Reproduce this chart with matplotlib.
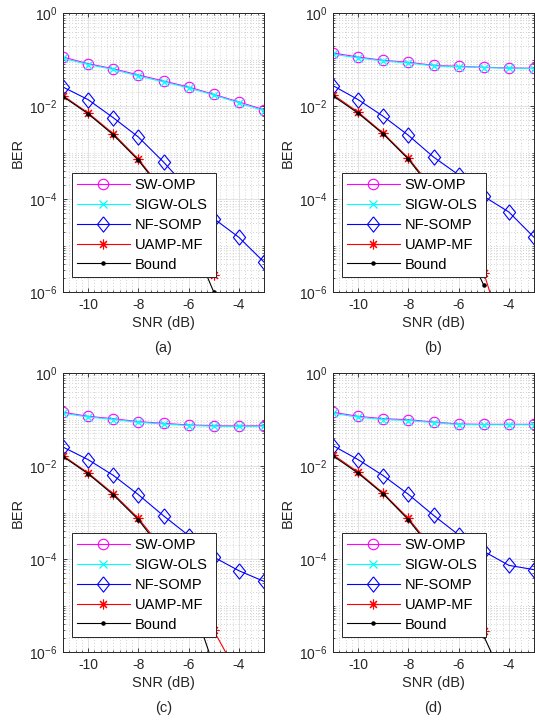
import numpy as np
import matplotlib
matplotlib.use('Agg')
import matplotlib.pyplot as plt
from matplotlib.ticker import FixedLocator, LogLocator, LogFormatterMathtext, MultipleLocator, NullFormatter

plt.rcParams['font.family'] = ['Liberation Sans', 'DejaVu Sans']
plt.rcParams['mathtext.fontset'] = 'custom'
plt.rcParams['mathtext.rm'] = 'Liberation Sans'
plt.rcParams['mathtext.it'] = 'Liberation Sans:italic'
plt.rcParams['axes.unicode_minus'] = False
plt.rcParams['font.size'] = 10

snr = [-11, -10, -9, -8, -7, -6, -5, -4, -3]

# BER = 0 means no error counted, not shown on the log axis
sw_omp_a = [0.113, 0.081, 0.0635, 0.0464, 0.0345, 0.0256, 0.0178, 0.0122, 0.0083]
sigw_ols_a = [0.106, 0.078, 0.061, 0.044, 0.033, 0.0245, 0.0172, 0.0117, 0.0079]
nf_somp_a = [0.0256, 0.0137, 0.0056, 0.00215, 6.25e-4, 1.6e-4, 3.8e-5, 1.5e-5, 4.4e-6]
uamp_mf_a = [0.0167, 0.0071, 0.00254, 7.2e-4, 1.5e-4, 2.2e-5, 2.3e-6, 0, 0]
bound_a = [0.0160, 0.0068, 0.00240, 6.8e-4, 1.4e-4, 1.9e-5, 1.0e-6, 0, 0]

sw_omp_b = [0.138, 0.113, 0.096, 0.087, 0.075, 0.0713, 0.068, 0.0656, 0.0646]
sigw_ols_b = [0.130, 0.108, 0.093, 0.084, 0.073, 0.070, 0.067, 0.065, 0.064]
nf_somp_b = [0.0274, 0.0137, 0.0060, 0.00234, 8.0e-4, 3.3e-4, 1.14e-4, 5.25e-5, 1.5e-5]
uamp_mf_b = [0.0175, 0.0074, 0.0026, 7.6e-4, 1.6e-4, 2.5e-5, 2.6e-6, 5e-8, 0]
bound_b = [0.0165, 0.0070, 0.0025, 7.2e-4, 1.45e-4, 2.0e-5, 1.4e-6, 0, 0]

sw_omp_c = [0.143, 0.117, 0.104, 0.0898, 0.0827, 0.0762, 0.0737, 0.0725, 0.0737]
sigw_ols_c = [0.136, 0.113, 0.100, 0.087, 0.080, 0.074, 0.072, 0.071, 0.072]
nf_somp_c = [0.0256, 0.0137, 0.0063, 0.00242, 8.5e-4, 3.2e-4, 1.1e-4, 5.6e-5, 3.3e-5]
uamp_mf_c = [0.0167, 0.0071, 0.00254, 7.5e-4, 1.6e-4, 2.4e-5, 2.9e-6, 3e-7, 0]
bound_c = [0.0160, 0.0068, 0.00240, 7.0e-4, 1.4e-4, 1.9e-5, 5e-7, 0, 0]

sw_omp_d = [0.143, 0.117, 0.104, 0.099, 0.0883, 0.080, 0.0787, 0.0787, 0.0787]
sigw_ols_d = [0.136, 0.112, 0.100, 0.095, 0.086, 0.078, 0.077, 0.077, 0.077]
nf_somp_d = [0.0274, 0.0137, 0.0062, 0.00246, 8.7e-4, 3.3e-4, 1.46e-4, 7.3e-5, 5.9e-5]
uamp_mf_d = [0.0175, 0.0074, 0.0026, 7.5e-4, 1.6e-4, 2.5e-5, 2.8e-6, 0, 0]
bound_d = [0.0165, 0.0070, 0.0025, 7.0e-4, 1.45e-4, 2.0e-5, 2.2e-6, 1.5e-7, 0]

labels = ['SW-OMP', 'SIGW-OLS', 'NF-SOMP', 'UAMP-MF', 'Bound']
captions = ['(a)', '(b)', '(c)', '(d)']

panels = [
    [sw_omp_a, sigw_ols_a, nf_somp_a, uamp_mf_a, bound_a],
    [sw_omp_b, sigw_ols_b, nf_somp_b, uamp_mf_b, bound_b],
    [sw_omp_c, sigw_ols_c, nf_somp_c, uamp_mf_c, bound_c],
    [sw_omp_d, sigw_ols_d, nf_somp_d, uamp_mf_d, bound_d],
]

# MATLAB-like diamond, a bit taller than wide
diamond = [(0, 1), (0.8, 0), (0, -1), (-0.8, 0), (0, 1)]

styles = [
    dict(color='#ff00ff', marker='o', ms=7.5, mfc='none', mew=0.8),
    dict(color='#00ffff', marker='x', ms=5.5, mew=0.9),
    dict(color='#0000ff', marker=diamond, ms=11, mfc='none', mew=0.8),
    dict(color='#ff0000', marker=(8, 2, 0), ms=7, mew=0.8),
    dict(color='black', marker='.', ms=4.5),
]

W, H = 535, 725
fig = plt.figure(figsize=(W / 100, H / 100), dpi=100)

# axes boxes in pixels: left, top
boxes = [(63, 13), (333, 13), (63, 373), (333, 373)]
aw, ah = 201, 279


def ber_panel(ax, curves, caption):
    for ber, st, lab in zip(curves, styles, labels):
        ber = np.array(ber, dtype=float)
        ber[ber <= 0] = np.nan
        ax.plot(snr, ber, lw=0.8, label=lab, **st)
    ax.set_yscale('log')
    ax.set_xlim(-11, -3)
    ax.set_ylim(1e-6, 1)
    ax.xaxis.set_major_locator(FixedLocator([-10, -8, -6, -4]))
    ax.xaxis.set_minor_locator(MultipleLocator(0.25))
    ax.yaxis.set_major_locator(FixedLocator([1e-6, 1e-4, 1e-2, 1]))
    ax.yaxis.set_major_formatter(LogFormatterMathtext())
    ax.yaxis.set_minor_locator(LogLocator(base=10, subs=np.arange(1, 10), numticks=20))
    ax.yaxis.set_minor_formatter(NullFormatter())
    ax.grid(True, which='major', color='#dedede', lw=0.6, ls='-')
    ax.grid(True, which='minor', color='#c4c4c4', lw=0.6, ls=(0, (1, 2.5)))
    ax.set_axisbelow(True)
    ax.tick_params(which='both', direction='in', top=True, right=True,
                   colors='#262626', labelcolor='#262626', labelsize=10)
    ax.tick_params(which='major', length=3, width=0.6, pad=4)
    ax.tick_params(which='minor', length=1.5, width=0.5)
    for s in ax.spines.values():
        s.set_color('#262626')
        s.set_linewidth(0.7)
    ax.set_xlabel('SNR (dB)', fontsize=10.5, color='#262626', labelpad=3)
    ax.set_ylabel('BER', fontsize=10.5, color='#262626', labelpad=3)
    leg = ax.legend(loc='lower left', bbox_to_anchor=(0.045, 0.055, 0.718, 0.37),
                    mode='expand', borderaxespad=0, fontsize=10.5, fancybox=False,
                    framealpha=1, edgecolor='#262626', handlelength=3.6,
                    handletextpad=0.35, labelspacing=0.4, borderpad=0.35, numpoints=1)
    leg.get_frame().set_linewidth(0.7)


for (l, t), curves, cap in zip(boxes, panels, captions):
    ax = fig.add_axes([l / W, 1 - (t + ah) / H, aw / W, ah / H])
    ber_panel(ax, curves, cap)
    fig.text((l + aw / 2) / W, 1 - (t + ah + 56) / H, cap, ha='center', va='center',
             fontsize=10.5, color='#262626')

fig.savefig('out.png', dpi=100)
